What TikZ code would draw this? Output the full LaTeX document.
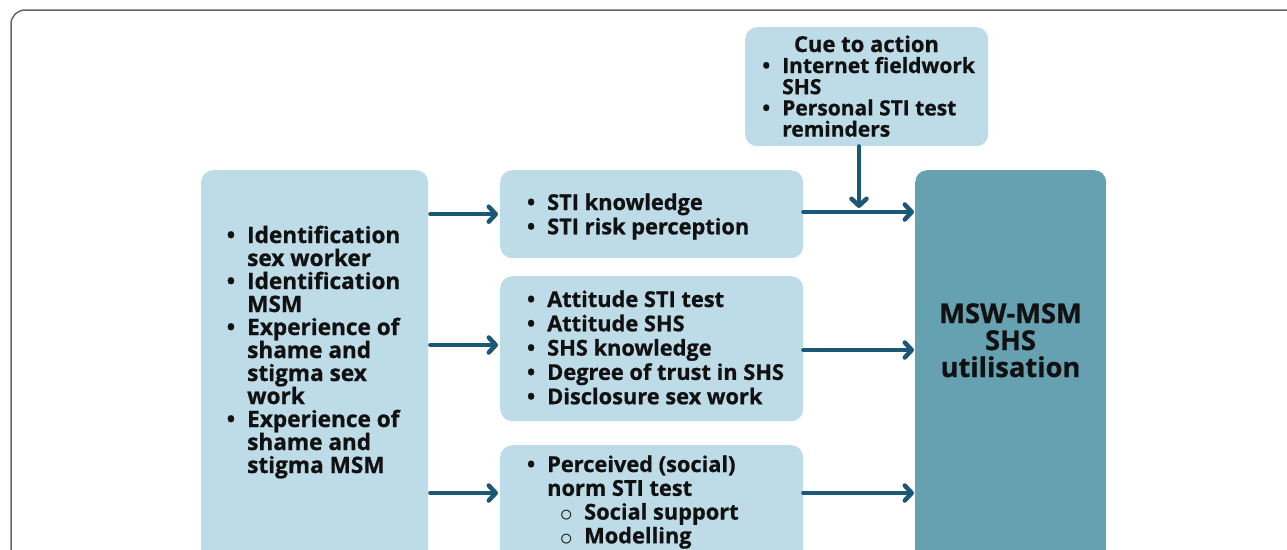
\documentclass[tikz,border=0pt]{standalone}
\usepackage{fontspec}
\setmainfont{Open Sans}[BoldFeatures={FakeBold=0.8}]
\newfontfamily\dejavu{DejaVu Sans}
\usetikzlibrary{arrows.meta}
\definecolor{lb}{HTML}{BEDCE8}
\definecolor{db}{HTML}{66A1B2}
\definecolor{ar}{HTML}{1B5876}
\definecolor{tx}{HTML}{111111}
\definecolor{fr}{HTML}{666666}
\newcommand\bu{\llap{\textbullet\hspace{12pt}}}
\newcommand\su{\hspace*{37pt}\llap{\raisebox{-6pt}{\dejavu\fontsize{28}{20}\selectfont ◦}\hspace{9pt}}}
% left-aligned and centred line stacks whose baseline is the first line
\newcommand\tl[2]{\vtop{\baselineskip=#1\lineskiplimit=-30pt\lineskip=0pt\halign{##\hfil\cr#2\crcr}}}
\newcommand\tc[2]{\vtop{\baselineskip=#1\lineskiplimit=-30pt\lineskip=0pt\halign{\hfil##\hfil\cr#2\crcr}}}
\tikzset{
  lbox/.style={fill=lb, rounded corners=12pt, inner sep=0pt, anchor=north west},
  dbox/.style={fill=db, rounded corners=12pt, inner sep=0pt, anchor=north west},
  txt/.style={inner sep=0pt, anchor=base west, text=tx, font=\bfseries},
  arr/.style={draw=ar, line width=4.5pt, line cap=round,
    -{Straight Barb[length=7pt,width=15pt,line cap=round,line join=round]}}
}
\begin{document}
\begin{tikzpicture}[x=1pt,y=-1pt]
\useasboundingbox (0,0) rectangle (1287,549);
\clip (0,0) rectangle (1287,549);
\draw[fr, line width=1.5pt, rounded corners=14pt] (11,10) rectangle (1320,620);

% boxes
\node[lbox, minimum width=243pt, minimum height=119pt] (cue) at (745,27) {};
\node[lbox, minimum width=227pt, minimum height=430pt] (L) at (201,170) {};
\node[lbox, minimum width=303pt, minimum height=88pt] (m1) at (500,170) {};
\node[lbox, minimum width=303pt, minimum height=145pt] (m2) at (500,276) {};
\node[lbox, minimum width=303pt, minimum height=155pt] (m3) at (500,445) {};
\node[dbox, minimum width=191pt, minimum height=430pt] (M) at (915,170) {};

% texts
\node[txt, anchor=base] (cuet) at (866.5,52) {\fontsize{22}{21}\selectfont Cue to action};
\node[txt] (cuel) at (782,73) {\fontsize{21}{21.2}\selectfont\tl{21.2pt}{%
\bu Internet fieldwork\cr SHS\cr \bu Personal STI test\cr reminders}};

\node[txt] (Lt) at (247,243) {\fontsize{22.6}{23}\selectfont\tl{23pt}{%
\bu Identification\cr sex worker\cr \bu Identification\cr MSM\cr \bu Experience of\cr shame and\cr stigma sex\cr work\cr \bu Experience of\cr shame and\cr stigma MSM}};

\node[txt] (m1t) at (547,210) {\fontsize{21.8}{24.3}\selectfont\tl{24.3pt}{%
\bu STI knowledge\cr \bu STI risk perception}};

\node[txt] (m2t) at (547,307) {\fontsize{21.8}{24.3}\selectfont\tl{24.3pt}{%
\bu Attitude STI test\cr \bu Attitude SHS\cr \bu SHS knowledge\cr \bu Degree of trust in SHS\cr \bu Disclosure sex work}};

\node[txt] (m3t) at (547,472) {\fontsize{21.8}{23.8}\selectfont\tl{23.8pt}{%
\bu Perceived (social)\cr norm STI test\cr \su Social support\cr \su Modelling}};

\node[txt, anchor=base] (Mt) at (1010.5,323) {\fontsize{27.3}{27}\selectfont\tc{27pt}{%
MSW-MSM\cr SHS\cr utilisation}};

% arrows
\draw[arr, shorten >=2pt] ([xshift=2pt]L.east |- m1.west) -- (m1.west);
\draw[arr, shorten >=2pt] ([xshift=2pt]L.east |- 0,345) -- (m2.west |- 0,345);
\draw[arr, shorten >=2pt] ([xshift=2pt]L.east |- 0,493) -- (m3.west |- 0,493);
\coordinate (j) at (859,212);
\draw[arr, shorten >=1pt] (m1.east |- j) -- (M.west |- j);
\draw[arr, shorten >=1pt] (m2.east |- 0,350) -- (M.west |- 0,350);
\draw[arr, shorten >=1pt] (m3.east |- 0,493) -- (M.west |- 0,493);
\draw[arr, shorten >=4pt] (cue.south -| j) -- (j);
\end{tikzpicture}
\end{document}
